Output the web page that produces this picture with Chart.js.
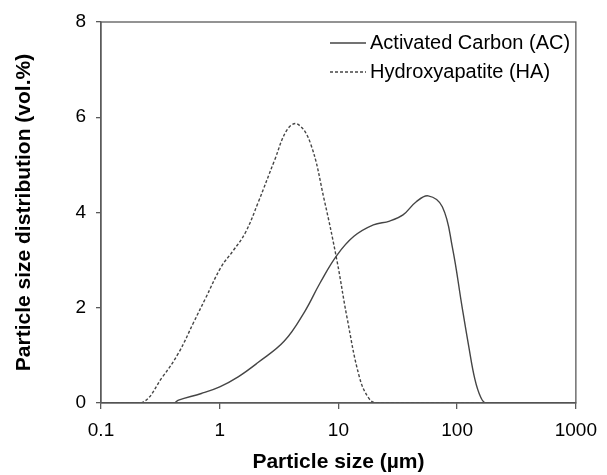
<!DOCTYPE html>
<html>
<head>
<meta charset="utf-8">
<script src="https://cdn.jsdelivr.net/npm/chart.js@4.4.0/dist/chart.umd.min.js"></script>
<style>
  html, body { margin: 0; padding: 0; background: #fff; }
  #wrap { width: 607px; height: 475px; }
</style>
</head>
<body>
<div id="wrap"><canvas id="psd"></canvas></div>
<script>
// values (size in um, volume %)
const acSize = [0.1, 0.41, 0.45, 0.7, 1.0, 1.43, 2.1, 3.5, 5.2, 7.0, 9.7, 13.5, 19.7, 27, 35, 45, 57, 75, 91, 110, 125, 141, 158, 175, 1000];
const acVol  = [0, 0, 0.06, 0.2, 0.34, 0.55, 0.85, 1.3, 1.92, 2.52, 3.1, 3.5, 3.74, 3.82, 3.95, 4.22, 4.35, 4.12, 3.28, 2.02, 1.2, 0.5, 0.12, 0, 0];

const haSize = [0.1, 0.218, 0.33, 0.45, 0.605, 0.76, 1.03, 1.3, 1.64, 2.1, 2.9, 3.7, 4.5, 5.8, 7.6, 9.7, 11.8, 15, 18, 21, 1000];
const haVol  = [0, 0, 0.55, 1.05, 1.7, 2.2, 2.86, 3.2, 3.57, 4.2, 5.1, 5.74, 5.86, 5.46, 4.26, 3.0, 1.8, 0.55, 0.1, 0, 0];

const xTicks = [0.1, 1, 10, 100, 1000];
const yTicks = [0, 2, 4, 6, 8];

const seriesNames = ["Activated Carbon (AC)", "Hydroxyapatite (HA)"];

const FONT = "'Liberation Sans', Arial, sans-serif";
const AXIS = "#5a5a5a";
const LINE = "#454545";

const toPoints = (xs, ys) => xs.map((x, i) => ({ x: x, y: ys[i] }));

// box round the plot
const framePlugin = {
    id: "frame",
    afterDraw(chart) {
        const { ctx, chartArea: a } = chart;
        ctx.save();
        ctx.strokeStyle = AXIS;
        ctx.lineWidth = 1.3;
        ctx.strokeRect(a.left, a.top, a.right - a.left, a.bottom - a.top);
        ctx.restore();
    }
};

// legend drawn inside the plot, top right
const legendPlugin = {
    id: "insideLegend",
    afterDraw(chart) {
        const { ctx } = chart;
        const rows = [43, 72];
        ctx.save();
        ctx.font = "20px " + FONT;
        ctx.fillStyle = "#000";
        ctx.textBaseline = "middle";
        chart.data.datasets.forEach((ds, i) => {
            const y = rows[i];
            ctx.strokeStyle = ds.borderColor;
            ctx.lineWidth = ds.borderWidth;
            ctx.setLineDash(ds.borderDash || []);
            ctx.beginPath();
            ctx.moveTo(330, y);
            ctx.lineTo(366, y);
            ctx.stroke();
            ctx.setLineDash([]);
            ctx.fillText(ds.label, 370, y);
        });
        ctx.restore();
    }
};

new Chart(document.getElementById("psd").getContext("2d"), {
    type: "line",
    data: {
        datasets: [{
            label: seriesNames[0],
            data: toPoints(acSize, acVol),
            borderColor: LINE,
            borderWidth: 1.4,
            pointRadius: 0,
            tension: 0.4,
            fill: false
        }, {
            label: seriesNames[1],
            data: toPoints(haSize, haVol),
            borderColor: LINE,
            borderWidth: 1.4,
            borderDash: [3, 2],
            pointRadius: 0,
            tension: 0.4,
            fill: false
        }]
    },
    options: {
        responsive: true,
        maintainAspectRatio: false,
        animation: false,
        layout: { padding: { left: 0, right: 25, top: 22, bottom: 0 } },
        plugins: {
            legend: { display: false },
            tooltip: { enabled: false }
        },
        scales: {
            x: {
                type: "logarithmic",
                min: 0.1,
                max: 1000,
                afterBuildTicks: (s) => { s.ticks = xTicks.map(v => ({ value: v })); },
                afterFit: (s) => { s.height = 72; },
                grid: { drawOnChartArea: false, drawTicks: true, tickLength: 6, color: AXIS, lineWidth: 1.3 },
                border: { color: AXIS, width: 1.3 },
                ticks: {
                    color: "#000",
                    padding: 10,
                    maxRotation: 0,
                    font: { family: FONT, size: 19 },
                    callback: (v) => String(v)
                },
                title: {
                    display: true,
                    text: "Particle size (µm)",
                    color: "#000",
                    padding: { top: 0, bottom: 0 },
                    font: { family: FONT, size: 21, weight: "bold" }
                }
            },
            y: {
                min: 0,
                max: 8,
                afterBuildTicks: (s) => { s.ticks = yTicks.map(v => ({ value: v })); },
                afterFit: (s) => { s.width = 101; },
                grid: { drawOnChartArea: false, drawTicks: true, tickLength: 5, color: AXIS, lineWidth: 1.3 },
                border: { color: AXIS, width: 1.3 },
                ticks: {
                    color: "#000",
                    padding: 10,
                    font: { family: FONT, size: 19 }
                },
                title: {
                    display: true,
                    text: "Particle size distribution (vol.%)",
                    color: "#000",
                    padding: { top: 12, bottom: 0 },
                    font: { family: FONT, size: 21, weight: "bold" }
                }
            }
        }
    },
    plugins: [framePlugin, legendPlugin]
});
</script>
</body>
</html>
